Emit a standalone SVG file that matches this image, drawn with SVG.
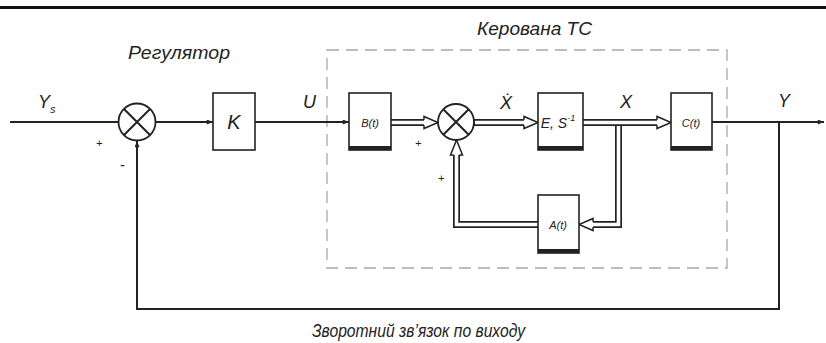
<svg xmlns="http://www.w3.org/2000/svg" width="826" height="343" viewBox="0 0 826 343">
<style>
.ln{stroke:#222;stroke-width:2;fill:none}
.blk{fill:#fff;stroke:#222;stroke-width:1.6}
.sh{fill:#222}
.sum{fill:#fff;stroke:#222;stroke-width:1.8}
.dbl{stroke:#222;stroke-width:7;fill:none}
.dbi{stroke:#fff;stroke-width:3.6;fill:none}
.ha{fill:#fff;stroke:#222;stroke-width:1.5;stroke-linejoin:miter}
.t{font-family:"Liberation Sans",Arial,sans-serif;font-style:italic;fill:#222}
.dash{fill:none;stroke:#a8a8a8;stroke-width:1.3;stroke-dasharray:12 7}
</style>
<defs>
<marker id="fa" viewBox="0 0 10 8" refX="10" refY="4" markerWidth="8" markerHeight="5" markerUnits="userSpaceOnUse" orient="auto">
<path d="M0,0 L10,4 L0,8 Z" fill="#222"/>
</marker>
</defs>
<rect x="0" y="6" width="826" height="3" fill="#111"/>
<rect class="dash" x="327" y="50" width="400" height="218"/>
<text class="t" x="128" y="59" font-size="18" textLength="102" lengthAdjust="spacingAndGlyphs">Регулятор</text>
<text class="t" x="477" y="35" font-size="18" textLength="115" lengthAdjust="spacingAndGlyphs">Керована ТС</text>
<text class="t" x="312" y="337" font-size="18" textLength="213" lengthAdjust="spacingAndGlyphs">Зворотний зв’язок по виходу</text>
<g id="connectors">
<line class="ln" x1="10" y1="122" x2="119" y2="122"/>
<line class="ln" x1="156" y1="122" x2="213" y2="122" marker-end="url(#fa)"/>
<line class="ln" x1="255" y1="122" x2="349" y2="122" marker-end="url(#fa)"/>
<polyline class="ln" points="779,122 779,309 137,309 137,141" marker-end="url(#fa)"/>
<line class="ln" x1="712" y1="122" x2="824" y2="122" marker-end="url(#fa)"/>
<path class="dbl" d="M391,122.5 H426"/>
<path class="dbi" d="M390,122.5 H427"/>
<path class="ha" d="M424,119.7 V116.5 L438,122.5 L424,128.5 V125.3"/>
<path class="dbl" d="M474,122.5 H526"/>
<path class="dbi" d="M475,122.5 H527"/>
<path class="ha" d="M524,119.7 V116.5 L538,122.5 L524,128.5 V125.3"/>
<path class="dbl" d="M618.5,122.5 V224.5 H591"/>
<path class="dbi" d="M618.5,126 V224.5 H590"/>
<path class="dbl" d="M583,122.5 H659"/>
<path class="dbi" d="M582,122.5 H660"/>
<path class="ha" d="M657,119.7 V116.5 L671,122.5 L657,128.5 V125.3"/>
<path class="ha" d="M593,221.7 V218.5 L579,224.5 L593,230.5 V227.3"/>
<path class="dbl" d="M538,224.5 H456.5 V154"/>
<path class="dbi" d="M539,224.5 H456.5 V153"/>
<path class="ha" d="M453.7,155 H450.5 L456.5,140 L462.5,155 H459.3"/>
</g>
<g id="sum1">
<circle class="sum" cx="137" cy="122" r="18.5"/>
<path class="ln" d="M124,109 L150,135 M150,109 L124,135" stroke-width="1.8"/>
</g>
<g id="sum2">
<circle class="sum" cx="456" cy="122" r="18"/>
<path class="ln" d="M443.3,109.3 L468.7,134.7 M468.7,109.3 L443.3,134.7" stroke-width="1.8"/>
</g>
<g id="K">
<rect class="blk" x="213" y="93" width="42" height="57"/>
<text class="t" x="234" y="129" font-size="20" text-anchor="middle">K</text>
</g>
<g id="B">
<rect class="blk" x="349" y="93" width="42" height="57"/>
<rect class="sh" x="349" y="146" width="42" height="4"/>
<text class="t" x="370" y="127" font-size="11" text-anchor="middle">B(t)</text>
</g>
<g id="E">
<rect class="blk" x="538" y="93" width="45" height="57"/>
<rect class="sh" x="538" y="146" width="45" height="4"/>
<text class="t" x="558" y="128" font-size="14" text-anchor="middle">E, S<tspan font-size="9" dy="-7">-1</tspan></text>
</g>
<g id="C">
<rect class="blk" x="671" y="93" width="41" height="57"/>
<rect class="sh" x="671" y="146" width="41" height="4"/>
<text class="t" x="691" y="127" font-size="11" text-anchor="middle">C(t)</text>
</g>
<g id="A">
<rect class="blk" x="538" y="195" width="41" height="58"/>
<rect class="sh" x="538" y="249" width="41" height="4"/>
<text class="t" x="558" y="229" font-size="11" text-anchor="middle">A(t)</text>
</g>
<g id="labels">
<text class="t" x="38" y="108" font-size="18">Y<tspan font-size="11" dy="5">s</tspan></text>
<text class="t" x="303" y="108" font-size="18">U</text>
<text class="t" x="500" y="109" font-size="18">Ẋ</text>
<text class="t" x="620" y="108" font-size="18">X</text>
<text class="t" x="778" y="107" font-size="18">Y</text>
<text class="t" x="96" y="147" font-size="11">+</text>
<text class="t" x="120" y="170" font-size="14">-</text>
<text class="t" x="415" y="147" font-size="11">+</text>
<text class="t" x="438" y="182" font-size="11">+</text>
</g>
</svg>
